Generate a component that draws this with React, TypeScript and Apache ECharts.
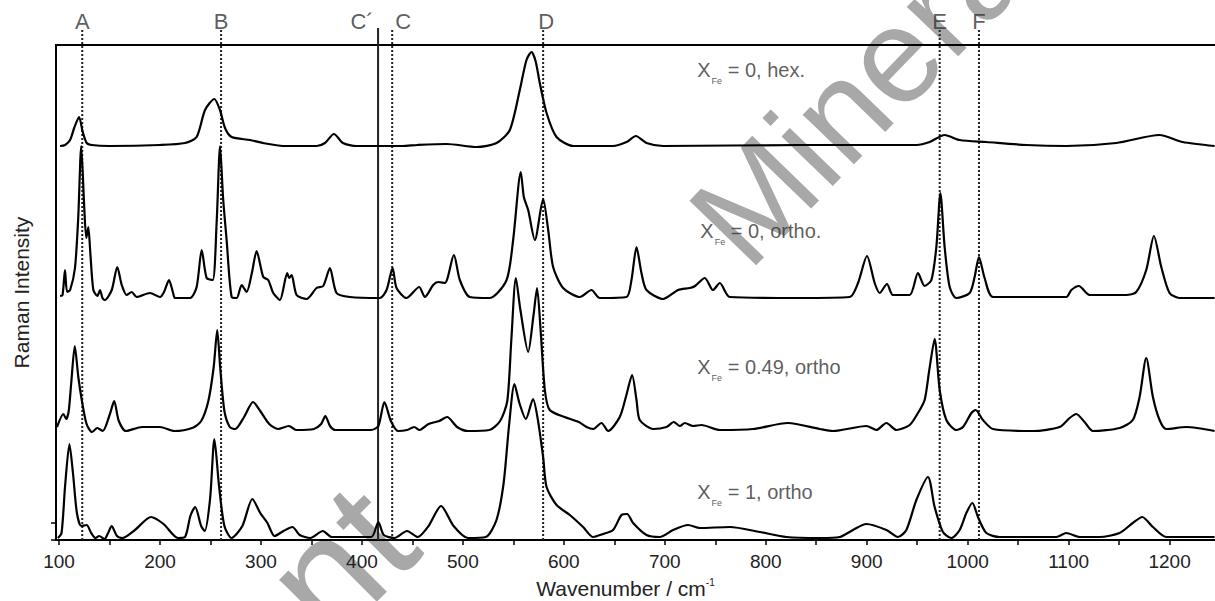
import React, { useEffect, useRef } from "react";
import * as echarts from "echarts";

// Raman spectra: [wavenumber (cm-1), intensity above own baseline]
const hexSpectrum: number[][] = [
  [101, 0], [106, 1], [110.9, 6], [115, 18], [119.8, 29], [123.5, 14], [127.4, 3], [132.4, 1], [150, 0], [200, 1],
  [224.8, 3], [236.3, 9], [244.6, 36], [253.8, 47], [259.4, 36], [264.4, 18], [271, 9], [289.1, 6], [301.9, 3],
  [321.8, 0], [355.1, 0], [363.4, 3], [372.3, 12], [381.2, 3], [394.8, 0], [417.8, 0], [440, 0], [455, 1], [483.9, 2],
  [513.6, -1], [533.4, 3], [546.5, 16], [556.4, 56], [563, 86], [568, 94], [572, 85], [576.2, 63], [582.9, 33],
  [592.8, 9], [609.2, 0], [648.5, 0], [662.1, 4], [671.3, 10], [681.9, 3], [698.3, 0], [833.7, 1], [949.2, 1],
  [962.4, 4], [977.2, 11], [992.1, 6], [1018.5, 4], [1058.1, 1], [1097.7, 0], [1147.2, 3], [1190.1, 11],
  [1212.9, 4], [1244.6, 0],
];

const ortho0Spectrum: number[][] = [
  [101, 2], [103.5, 3], [105.9, 28], [108, 6], [111, 8], [115.8, 30], [119, 80], [122, 152], [125, 90], [127, 60],
  [129, 71], [131, 45], [134, 8], [138, 2], [140.6, 8], [143, 0], [145.5, -2], [152.2, 8], [157.7, 31], [162.1, 13],
  [167, 3], [172, 6], [176.9, 1], [190.1, 5], [200, 1], [204, 6], [208.9, 18], [213, 5], [214.9, 0], [229.7, 0],
  [236.3, 11], [241.3, 48], [246.2, 20], [252.2, 18], [256.1, 75], [259.5, 152], [262.5, 100], [266, 58], [271, 1],
  [276, 0], [280.9, 13], [285.8, 6], [291, 25], [295.7, 47], [302.3, 21], [307.2, 18], [312.2, 5], [318.8, -2],
  [326, 25], [328, 20], [330.4, 23], [335.3, 3], [345.2, -1], [355.1, 10], [361.7, 12], [368.3, 30], [374.9, 5],
  [388.1, 1], [417.8, 0], [424.4, 8], [430.4, 30], [434.3, 10], [444.2, 0], [456.7, 11], [462.4, 1], [470.6, 13],
  [475.5, 16], [482.2, 15], [491.1, 43], [497, 18], [506.9, 1], [526.7, 0], [543.3, 18], [549.8, 58], [557.4, 126],
  [560.4, 101], [564.7, 88], [571.3, 58], [579.5, 99], [584.5, 68], [589.4, 31], [599.3, 10], [615.8, 1], [627.4, 8],
  [635.6, 0], [662.1, 1], [667, 18], [672, 51], [676.9, 25], [681.9, 8], [698.3, -1], [713.2, 8], [724.8, 10],
  [730, 12], [739.6, 20], [747.8, 8], [754.5, 15], [764.4, 1], [833.7, 0], [883.2, 1], [891.4, 15], [900.3, 42],
  [907.9, 15], [912.9, 5], [920.1, 14], [926, 3], [942.6, 3], [950.8, 25], [957.4, 12], [964.1, 18], [969, 51],
  [973, 105], [977.2, 51], [982.2, 11], [988.8, 0], [1002, 5], [1006.9, 21], [1011.2, 41], [1016.8, 20],
  [1025.1, 1], [1097.7, 1], [1102.7, 8], [1110.2, 12], [1120.8, 3], [1157.1, 3], [1167, 6], [1176.9, 28],
  [1184.5, 62], [1191.8, 31], [1200, 5], [1209.9, 0], [1244.6, 0],
];

const ortho049Spectrum: number[][] = [
  [98, 3], [104.3, 16], [107.1, 11], [109.6, 19], [112, 46], [115.6, 84], [119.1, 53], [122.7, 29], [127.3, 6],
  [132.6, -2], [137.9, 2], [143.3, -1], [150.4, 16], [154.6, 29], [159.2, 9], [166.3, -1], [182.3, 3], [200, 3],
  [214.2, -1], [231.9, 2], [240.8, 9], [247.9, 29], [253.2, 63], [256.7, 100], [259.6, 63], [263.8, 19], [269.1, 3],
  [274.5, 1], [283.3, 13], [292.2, 28], [299.3, 19], [308.2, 6], [317, 1], [327.7, 4], [334.8, 0], [352.5, 1],
  [359.6, 6], [363.8, 14], [368.4, 4], [373.8, 0], [409.2, 0], [416.3, 4], [422.3, 28], [428.7, 9], [435.8, -1],
  [444.7, 0], [451.8, 3], [457.1, 0], [466, 6], [476.6, 9], [484.4, 13], [494.3, 3], [505, -1], [526.2, 0],
  [536.9, 9], [544, 29], [548, 90], [552.5, 152], [557, 120], [564.7, 78], [570, 115], [573.5, 142], [577, 100],
  [581.2, 40], [586, 20], [600.7, 13], [614.9, 8], [622.5, 3], [629.1, 1], [637.3, 7], [643.9, -1], [655.4, 13],
  [662, 35], [667.6, 55], [672, 30], [675.2, 10], [688.4, 1], [701.7, 3], [708.9, 8], [714.9, 4], [719.8, 7],
  [728, 4], [736.3, 5], [754.5, 0], [787.4, 1], [822.1, 7], [853.5, 1], [866.6, -1], [899.7, 4], [909.6, 0],
  [919.5, 7], [929.4, 0], [942.6, 5], [950.8, 17], [957.4, 30], [962, 60], [967.3, 91], [972.3, 40], [978.9, 10],
  [988.8, 0], [995.4, 3], [1003.7, 17], [1007.9, 20], [1015.1, 10], [1025.1, 1], [1064.7, -1], [1091.1, 3],
  [1101, 12], [1107.6, 16], [1115.8, 8], [1124.1, -1], [1150.5, 2], [1163.6, 10], [1170.3, 33], [1176.9, 72],
  [1183.5, 33], [1190.1, 10], [1196.7, 1], [1216.5, 3], [1244.6, -1],
];

const fe1Spectrum: number[][] = [
  [98.9, 0], [102.5, 5], [106, 52], [110.3, 94], [113.8, 65], [117.7, 25], [122, 12], [127.3, 13], [131.9, 5],
  [136.2, 0], [139.7, 2], [145, -1], [148.6, 5], [152.1, 12], [157.4, 2], [162.8, 0], [175.2, 8], [191.1, 21],
  [203.5, 14], [217.7, 0], [224.8, 1], [230.1, 22], [234.8, 31], [240.8, 12], [244.3, 7], [249.6, 39], [253.9, 99],
  [258.5, 52], [263.8, 12], [270.9, 0], [281.6, 12], [291.5, 39], [299.3, 25], [306.4, 15], [313.5, 2], [322.3, 7],
  [331.2, 11], [338.3, 3], [348.9, 0], [361.3, 7], [370.2, 1], [409.2, 1], [416.3, 16], [421.6, 3], [432.3, 0],
  [444.7, 7], [455.3, 1], [466, 12], [478.4, 32], [490.8, 12], [505, 0], [522.7, 1], [533.3, 18], [540.4, 55],
  [545.7, 112], [551.1, 154], [556, 135], [562.4, 119], [569.5, 139], [574, 120], [579.5, 81], [582.9, 51],
  [592.8, 33], [605.9, 23], [619.1, 11], [629, 1], [638.9, 4], [648.8, 8], [657.1, 23], [662.7, 24], [668.6, 15],
  [681.9, 3], [695, 1], [708.2, 8], [723.1, 13], [734.7, 10], [764.4, 11], [794.1, 6], [820.5, 1], [853.5, 0],
  [873.3, 1], [886.4, 8], [899.7, 14], [919.5, 8], [931, 1], [939.3, 8], [949.2, 38], [960.7, 61], [967.3, 31],
  [975.5, 6], [983.9, 0], [992.1, 8], [998.7, 25], [1004.7, 35], [1010.2, 21], [1018.5, 5], [1031.7, 1],
  [1087.8, 1], [1097.7, 5], [1111.1, 1], [1130.7, 1], [1150.5, 5], [1163.6, 15], [1172.9, 21], [1183.5, 11],
  [1196.7, 1], [1244.6, 1],
];

const spectra = [hexSpectrum, ortho0Spectrum, ortho049Spectrum, fe1Spectrum];
const baselineOffsets = [394, 242, 110, 2];
const sampleTexts = [" = 0, hex.", " = 0, ortho.", " = 0.49, ortho", " = 1, ortho"];
const sampleLabelAnchors = [[731.7, 470], [734.7, 309], [731.7, 173], [731.7, 48]];

const bandNames = ["A", "B", "C´", "C", "D", "E", "F"];
const bandPositions = [123, 260.5, 416, 430, 579.5, 972.3, 1011.2];
const bandSolid = [false, false, true, false, false, false, false];
const bandLabelShift = [0, 0, -16, 11, 3, 0, 0];
const bandLineTop = 512;
const bandLabelLevel = 519;

const xTickLabels = [100, 200, 300, 400, 500, 600, 700, 800, 900, 1000, 1100, 1200];
const xTickMarks = [100, 150, 200, 250, 300, 350, 400, 450, 500, 550, 600, 650, 700, 750, 800, 850, 900, 950, 1000, 1050, 1100, 1150, 1200];
const yTickMarks = [0, 17];

const FONT = "'Liberation Sans', Arial, Helvetica, sans-serif";
const WATERMARK = "#a8a8a8";

export default function App() {
  const ref = useRef<HTMLDivElement>(null);
  useEffect(() => {
    if (!ref.current) return;
    const chart = echarts.init(ref.current, undefined, { renderer: "svg" });

    const spectrumSeries = spectra.map((sp, i) => ({
      type: "line",
      name: "spectrum" + i,
      data: sp.map(([w, v]) => [w, v + baselineOffsets[i]]),
      showSymbol: false,
      symbol: "none",
      smooth: 0.25,
      clip: true,
      z: 5,
      lineStyle: { color: "#000", width: 2.2 },
      silent: true,
    }));

    const bandLineSeries = bandPositions.map((p, i) => ({
      type: "line",
      data: [[p, 0], [p, bandLineTop]],
      showSymbol: false,
      symbol: "none",
      clip: false,
      z: 3,
      silent: true,
      lineStyle: { color: "#222", width: 2, type: bandSolid[i] ? "solid" : [2, 2] },
    }));

    const bandLabelSeries = {
      type: "scatter",
      clip: false,
      silent: true,
      symbolSize: 1,
      itemStyle: { color: "rgba(0,0,0,0)" },
      data: bandPositions.map((p, i) => ({
        value: [p, bandLabelLevel],
        label: {
          show: true,
          position: "inside",
          offset: [bandLabelShift[i], 0],
          formatter: bandNames[i],
          fontSize: 22,
          color: "#333",
          fontFamily: FONT,
        },
      })),
    };

    const sampleLabelSeries = {
      type: "scatter",
      clip: false,
      silent: true,
      symbolSize: 1,
      z: 6,
      itemStyle: { color: "rgba(0,0,0,0)" },
      data: sampleLabelAnchors.map((a, i) => ({
        value: a,
        label: {
          show: true,
          position: "right",
          distance: 0,
          formatter: "{x|X}{sub|Fe}{x|" + sampleTexts[i] + "}",
          rich: {
            x: { fontSize: 20, lineHeight: 20, verticalAlign: "top", color: "#333", fontFamily: FONT },
            sub: { fontSize: 9, lineHeight: 9, verticalAlign: "top", padding: [16, 0, 0, 1], color: "#333", fontFamily: FONT },
          },
        },
      })),
    };

    const option = {
      animation: false,
      backgroundColor: "#fff",
      textStyle: { fontFamily: FONT },
      grid: { left: 56, right: 0, top: 45, bottom: 61, containLabel: false, outerBoundsMode: "none" },
      graphic: [
        {
          type: "text",
          z: 0,
          silent: true,
          x: 715,
          y: 241,
          rotation: (46 * Math.PI) / 180,
          style: {
            text: "Minera",
            fontSize: 135,
            fill: WATERMARK,
            fontFamily: FONT,
            align: "left",
            verticalAlign: "middle",
          },
        },
        {
          type: "text",
          z: 0,
          silent: true,
          x: 292,
          y: 608,
          rotation: (45 * Math.PI) / 180,
          style: {
            text: "nt",
            fontSize: 160,
            fill: WATERMARK,
            fontFamily: FONT,
            align: "left",
            verticalAlign: "middle",
          },
        },
      ],
      xAxis: [
        {
          type: "value",
          min: 97,
          max: 1245,
          position: "bottom",
          name: "Wavenumber / cm{sup|-1}",
          nameLocation: "middle",
          nameGap: 37,
          nameTextStyle: {
            rich: {
              sup: { fontSize: 10, lineHeight: 10, verticalAlign: "top", color: "#222", fontFamily: FONT },
            },
            fontSize: 21,
            lineHeight: 22,
            color: "#222",
            fontFamily: FONT,
            padding: [0, 20, 0, 0],
          },
          axisLine: { show: true, onZero: false, lineStyle: { color: "#000", width: 2 } },
          axisTick: { show: true, inside: false, length: 5, customValues: xTickMarks, lineStyle: { color: "#000", width: 1.5 } },
          axisLabel: {
            show: true,
            customValues: xTickLabels,
            formatter: (v: number) => String(v),
            fontSize: 19,
            color: "#222",
            margin: 12,
            fontFamily: FONT,
          },
          splitLine: { show: false },
        },
        {
          type: "value",
          min: 97,
          max: 1245,
          position: "top",
          axisLine: { show: true, onZero: false, lineStyle: { color: "#000", width: 2 } },
          axisTick: { show: false },
          axisLabel: { show: false },
          splitLine: { show: false },
        },
      ],
      yAxis: {
        type: "value",
        min: 0,
        max: 495,
        name: "Raman Intensity",
        nameLocation: "middle",
        nameGap: 24,
        nameTextStyle: { fontSize: 21, color: "#222", fontFamily: FONT },
        axisLine: { show: true, onZero: false, lineStyle: { color: "#000", width: 2 } },
        axisTick: { show: true, inside: false, length: 5, customValues: yTickMarks, lineStyle: { color: "#000", width: 1.5 } },
        axisLabel: { show: false },
        splitLine: { show: false },
      },
      series: [...bandLineSeries, ...spectrumSeries, bandLabelSeries, sampleLabelSeries],
    };

    chart.setOption(option as any);
    return () => chart.dispose();
  }, []);

  return (
    <div
      ref={ref}
      style={{ position: "fixed", left: 0, top: 0, width: 1215, height: 601, background: "#fff" }}
    />
  );
}
